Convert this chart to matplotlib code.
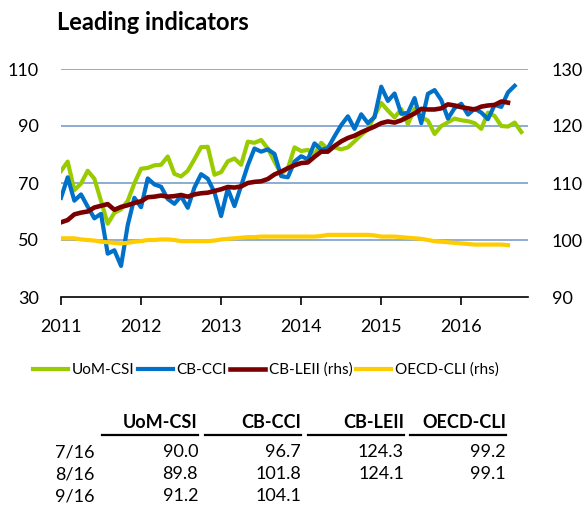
import matplotlib.pyplot as plt
from matplotlib.lines import Line2D

# Месячные данные, январь 2011 = индекс 0
uom_csi = [74.2, 77.5, 67.5, 69.8, 74.3, 71.5, 63.7, 55.7, 59.5, 60.8, 63.7, 69.9,
           75.0, 75.3, 76.2, 76.4, 79.3, 73.2, 72.3, 74.3, 78.3, 82.6, 82.7, 72.9,
           73.8, 77.6, 78.6, 76.4, 84.5, 84.1, 85.1, 82.1, 77.5, 73.2, 75.1, 82.5,
           81.2, 81.6, 80.0, 84.1, 81.9, 82.5, 81.8, 82.5, 84.6, 86.9, 88.8, 93.6,
           98.1, 95.4, 93.0, 95.9, 90.7, 96.1, 93.1, 91.9, 87.2, 90.0, 91.3, 92.6,
           92.0, 91.7, 91.0, 89.0, 94.7, 93.5, 90.0, 89.8, 91.2, 87.9]

cb_cci = [64.8, 72.0, 63.8, 66.0, 61.7, 57.6, 59.2, 45.2, 46.4, 40.9, 55.2, 64.8,
          61.5, 71.6, 69.5, 68.7, 64.4, 62.7, 65.4, 61.3, 68.4, 73.1, 71.5, 66.7,
          58.4, 68.0, 61.9, 69.0, 76.2, 82.1, 81.0, 81.8, 80.2, 72.4, 72.0, 77.5,
          79.4, 78.3, 83.9, 81.7, 82.2, 86.4, 90.3, 93.4, 89.0, 94.1, 91.0, 93.1,
          103.8, 98.8, 101.4, 94.3, 94.6, 99.8, 91.0, 101.3, 102.6, 99.1, 92.6, 96.3,
          97.8, 94.0, 96.1, 94.7, 92.4, 97.4, 96.7, 101.8, 104.1]

cb_leii = [103.1, 103.5, 104.5, 104.8, 105.0, 105.7, 106.0, 106.3, 105.3, 105.8, 106.1, 106.5,
           106.8, 107.5, 107.6, 107.8, 107.6, 107.7, 107.9, 107.6, 108.0, 108.2, 108.3, 108.6,
           108.9, 109.3, 109.2, 109.4, 110.0, 110.2, 110.3, 110.7, 111.5, 112.0, 112.6, 113.1,
           113.5, 113.6, 114.6, 115.5, 115.5, 116.5, 117.3, 117.9, 118.3, 118.9, 119.4, 119.9,
           120.5, 120.8, 120.6, 121.0, 121.6, 122.2, 123.0, 122.9, 122.9, 123.1, 123.8, 123.6,
           123.3, 123.1, 122.9, 123.4, 123.6, 123.7, 124.3, 124.1]

oecd_cli = [100.3, 100.3, 100.3, 100.1, 100.0, 99.9, 99.7, 99.6, 99.5, 99.4, 99.5, 99.7,
            99.8, 100.0, 100.0, 100.1, 100.1, 100.0, 99.8, 99.8, 99.8, 99.8, 99.8, 99.9,
            100.1, 100.2, 100.3, 100.4, 100.5, 100.5, 100.6, 100.6, 100.6, 100.6, 100.6, 100.6,
            100.6, 100.6, 100.6, 100.7, 100.9, 100.9, 100.9, 100.9, 100.9, 100.9, 100.9, 100.8,
            100.6, 100.6, 100.6, 100.5, 100.4, 100.3, 100.2, 100.0, 99.8, 99.7, 99.6, 99.5,
            99.4, 99.3, 99.2, 99.2, 99.2, 99.2, 99.2, 99.1]

years = [2011, 2012, 2013, 2014, 2015, 2016]

# Таблица последних значений
table_cols = ['UoM-CSI', 'CB-CCI', 'CB-LEII', 'OECD-CLI']
table_rows = ['7/16', '8/16', '9/16']
table_vals = [['90.0', '96.7', '124.3', '99.2'],
              ['89.8', '101.8', '124.1', '99.1'],
              ['91.2', '104.1', '', '']]

plt.rcParams['font.family'] = ['Lato', 'DejaVu Sans']

W, H = 585, 532
fig = plt.figure(figsize=(W / 100, H / 100), dpi=100)
ax = fig.add_axes([61 / W, 1 - 297 / H, (528 - 61) / W, (297 - 69) / H])
ax2 = ax.twinx()


def months(series):
    return [2011 + i / 12 for i in range(len(series))]


lw = 3.0
l1, = ax.plot(months(uom_csi), uom_csi, color='#99cc00', lw=lw, solid_joinstyle='round')
l2, = ax.plot(months(cb_cci), cb_cci, color='#0070c8', lw=lw, solid_joinstyle='round')
l3, = ax2.plot(months(cb_leii), cb_leii, color='#7a0000', lw=lw + 0.3, solid_joinstyle='round')
l4, = ax2.plot(months(oecd_cli), oecd_cli, color='#ffcc00', lw=lw, solid_joinstyle='round')

ax.set_xlim(2011, 2011 + 70 / 12)
ax.set_ylim(30, 110)
ax2.set_ylim(90, 130)
ax.set_yticks([30, 50, 70, 90, 110])
ax2.set_yticks([90, 100, 110, 120, 130])
ax.set_xticks(years)
ax.set_xticklabels([str(y) for y in years])

for y in [50, 70, 90, 110]:
    ax.axhline(y, color='#6f94c8', lw=1.1, zorder=0)

for a in (ax, ax2):
    for s in ['left', 'right', 'top', 'bottom']:
        a.spines[s].set_visible(False)
ax.spines['bottom'].set_visible(True)
ax.spines['bottom'].set_linewidth(1.2)

ax.tick_params(axis='y', length=0, pad=16, labelsize=13)
ax2.tick_params(axis='y', length=0, pad=17, labelsize=13)
ax.tick_params(axis='x', length=6, width=1.2, direction='out', pad=10, labelsize=13)

fig.text(57 / W, 1 - 22 / H, 'Leading indicators', fontsize=17, fontweight='bold',
         ha='left', va='center')

fig.legend([l1, l2, l3, l4], ['UoM-CSI', 'CB-CCI', 'CB-LEII (rhs)', 'OECD-CLI (rhs)'],
           loc='center', bbox_to_anchor=(266 / W, 1 - 370 / H), ncol=4, frameon=False,
           fontsize=11, handlelength=2.3, handletextpad=0.25, columnspacing=0.2)

# Таблица под графиком
col_right = [198, 301, 404, 506]
col_left = [102, 205, 308, 410]
for j, name in enumerate(table_cols):
    fig.text(col_right[j] / W, 1 - 422 / H, name, fontsize=13, fontweight='bold',
             ha='right', va='center')
    fig.add_artist(Line2D([col_left[j] / W, col_right[j] / W], [1 - 435 / H, 1 - 435 / H],
                          color='black', lw=1.6))
row_y = [452, 474, 496]
for i, r in enumerate(table_rows):
    fig.text(55 / W, 1 - row_y[i] / H, r, fontsize=13, ha='left', va='center')
    for j, v in enumerate(table_vals[i]):
        fig.text(col_right[j] / W, 1 - row_y[i] / H, v, fontsize=13, ha='right', va='center')

plt.savefig('out.png', dpi=100)
